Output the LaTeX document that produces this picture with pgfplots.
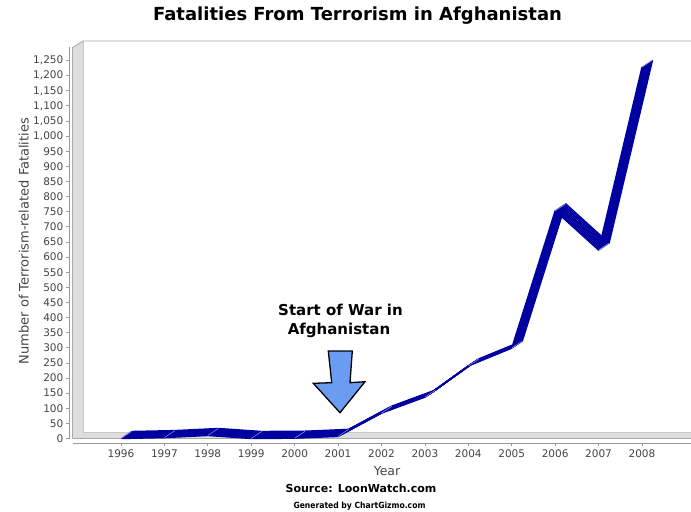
\documentclass[border=0pt]{standalone}
\usepackage{fontspec}
\setmainfont{DejaVu Sans}
\newfontfamily\condfont{DejaVu Sans Condensed}
\usepackage{pgfplots}
\pgfplotsset{compat=1.18}
\usepackage{pgfplotstable}
\definecolor{ribbon}{HTML}{0000A0}
\definecolor{seam}{HTML}{8C8CD8}
\definecolor{wallfill}{HTML}{DDDDDD}
\definecolor{walledge}{HTML}{A8A8A8}
\definecolor{wallinner}{HTML}{C8C8C8}
\definecolor{axisgray}{HTML}{999999}
\definecolor{tickgray}{HTML}{444444}
\definecolor{arrowblue}{HTML}{6A9CF2}
\newcommand\ticks{\fontsize{10.5bp}{12bp}\selectfont}
\pgfdeclareplotmark{seam}{\pgfpathmoveto{\pgfpointorigin}\pgfpathlineto{\pgfpoint{10.5bp}{7bp}}\pgfusepathqstroke}
\pgfplotstableread{
year val
1996 0
1997 3
1998 10
1999 0
2000 1
2001 7
2002 84
2003 137
2004 240
2005 299
2006 753
2007 623
2008 1228
}\data
\begin{document}
\begin{tikzpicture}
\useasboundingbox (0,0) rectangle (691bp,-512bp);
% 3D walls
\fill[wallfill] (72.5bp,-438.5bp) -- (72.5bp,-47.5bp) -- (83bp,-41bp) -- (83bp,-432bp) -- cycle;
\fill[wallfill] (72.5bp,-438.5bp) -- (83bp,-432bp) -- (691bp,-432bp) -- (691bp,-438.5bp) -- cycle;
\draw[wallinner, line width=0.7bp] (83bp,-41bp) -- (83bp,-432bp) -- (691bp,-432bp);
\draw[walledge, line width=0.8bp] (72.5bp,-438.5bp) -- (72.5bp,-47.5bp) -- (83bp,-41bp) -- (691bp,-41bp);
\draw[walledge, line width=0.8bp] (72.5bp,-438.5bp) -- (691bp,-438.5bp);
% axis lines
\draw[axisgray, line width=0.8bp] (69.5bp,-438.5bp) -- (69.5bp,-47bp);
\draw[axisgray, line width=0.8bp] (72.5bp,-443bp) -- (691bp,-443bp);
\begin{axis}[
  at={(72.5bp,-438.5bp)}, anchor=south west,
  width=607.5bp, height=391bp, scale only axis,
  xmin=1994.883, xmax=2008.875, ymin=0, ymax=1293,
  axis line style={draw=none},
  major tick length=0pt,
  xtick={1996,...,2008}, ytick={0,50,...,1250},
  /pgf/number format/assume math mode=true,
  xticklabel style={/pgf/number format/1000 sep={}, anchor=north, inner sep=0pt, yshift=-11bp, font=\ticks, text=tickgray},
  yticklabel style={/pgf/number format/1000 sep={,}, anchor=east, inner sep=0pt, xshift=-9bp, font=\ticks, text=tickgray},
  clip=false,
]
\pgfplotsinvokeforeach{0,50,...,1250}{
  \draw[axisgray, line width=0.8bp] ([xshift=-6.5bp]axis cs:1994.883,#1) -- ([xshift=-3bp]axis cs:1994.883,#1);
}
\pgfplotsinvokeforeach{1996,...,2008}{
  \draw[axisgray, line width=0.8bp] ([yshift=-4.5bp]axis cs:#1,0) -- ([yshift=-7.5bp]axis cs:#1,0);
}
\pgfplotsinvokeforeach{0,...,10}{
  \addplot[ribbon, line width=1.4bp, line join=round, line cap=butt, xshift=#1*1.05bp, yshift=#1*0.7bp, forget plot] table[x=year, y=val] {\data};
}
\addplot[only marks, mark=seam, mark options={draw=seam, line width=0.6bp}, forget plot] table[x=year, y=val] {\data};
\end{axis}
% annotation
\node[font=\bfseries\fontsize{15bp}{18bp}\selectfont, anchor=base] at (340.5bp,-315bp) {Start of War in};
\node[font=\bfseries\fontsize{15bp}{18bp}\selectfont, anchor=base] at (339bp,-334bp) {Afghanistan};
\draw[black, line width=1.3bp, fill=arrowblue, line join=miter]
  (328.3bp,-351bp) -- (352.3bp,-351bp) -- (350bp,-382.7bp) -- (365bp,-381.7bp) -- (340bp,-412.7bp)
  -- (313.3bp,-383.3bp) -- (331.7bp,-382.7bp) -- cycle;
% titles and labels
\node[font=\bfseries\fontsize{18bp}{21bp}\selectfont, anchor=base] at (357.5bp,-20.5bp) {Fatalities From Terrorism in Afghanistan};
\node[font=\fontsize{13bp}{15bp}\selectfont, text=tickgray, rotate=90, anchor=base] at (28.5bp,-241bp) {Number of Terrorism-related Fatalities};
\node[font=\fontsize{12.5bp}{15bp}\selectfont, text=tickgray, anchor=base] at (387bp,-475bp) {Year};
\node[font=\bfseries\fontsize{11bp}{13bp}\selectfont, anchor=base] at (361bp,-492bp) {Source: LoonWatch.com};
\node[font=\condfont\bfseries\fontsize{8.5bp}{10bp}\selectfont, anchor=base] at (359.5bp,-508bp) {Generated by ChartGizmo.com};
\end{tikzpicture}
\end{document}
